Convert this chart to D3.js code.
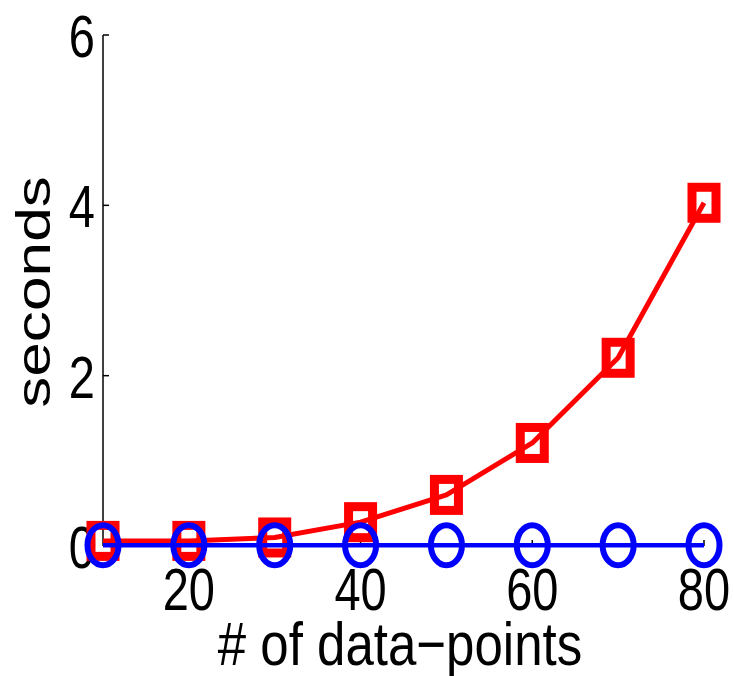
<!DOCTYPE html>
<html>
<head>
<meta charset="utf-8">
<script src="https://cdn.jsdelivr.net/npm/d3@7"></script>
<style>
  body { margin: 0; background: #fff; }
  text { font-family: "Liberation Sans", Arial, sans-serif; fill: #000; }
</style>
</head>
<body>
<svg id="chart" width="734" height="676"></svg>
<script>
// data
var dataPoints = [10, 20, 30, 40, 50, 60, 70, 80];
var redSeconds = [0.06, 0.06, 0.1, 0.28, 0.6, 1.21, 2.21, 4.03];
var blueSeconds = [0.01, 0.01, 0.01, 0.01, 0.01, 0.01, 0.01, 0.01];
var xTicks = [20, 40, 60, 80];
var yTicks = [0, 2, 4, 6];

var svg = d3.select("#chart");
var stretch = 1.27; // figure is stretched vertically

var x = d3.scaleLinear().domain([10, 80]).range([103, 704]);
var y = d3.scaleLinear().domain([0, 6]).range([546, 35]);

// axes (MATLAB style, box off, ticks inward)
var axes = svg.append("g").attr("class", "axes");
axes.append("line")
  .attr("x1", x(10)).attr("x2", x(10))
  .attr("y1", y(0)).attr("y2", y(6))
  .attr("stroke", "#000").attr("stroke-width", 1.5);
axes.append("line")
  .attr("x1", x(10)).attr("x2", x(80))
  .attr("y1", y(0)).attr("y2", y(0))
  .attr("stroke", "#000").attr("stroke-width", 1.5);

axes.selectAll("line.ytick")
  .data(yTicks)
  .enter().append("line")
  .attr("class", "ytick")
  .attr("x1", x(10)).attr("x2", x(10) + 6)
  .attr("y1", function(d) { return y(d); })
  .attr("y2", function(d) { return y(d); })
  .attr("stroke", "#000").attr("stroke-width", 1.5);

axes.selectAll("line.xtick")
  .data(xTicks)
  .enter().append("line")
  .attr("class", "xtick")
  .attr("x1", function(d) { return x(d); })
  .attr("x2", function(d) { return x(d); })
  .attr("y1", y(0)).attr("y2", y(0) - 6)
  .attr("stroke", "#000").attr("stroke-width", 1.5);

axes.selectAll("text.ylab")
  .data(yTicks)
  .enter().append("text")
  .attr("class", "ylab")
  .attr("text-anchor", "end")
  .attr("font-size", 47)
  .attr("transform", function(d) {
    return "translate(95," + (y(d) + 22) + ") scale(1," + stretch + ")";
  })
  .text(function(d) { return d; });

axes.selectAll("text.xlab")
  .data(xTicks)
  .enter().append("text")
  .attr("class", "xlab")
  .attr("text-anchor", "middle")
  .attr("font-size", 47)
  .attr("transform", function(d) {
    return "translate(" + x(d) + ",610) scale(1," + stretch + ")";
  })
  .text(function(d) { return d; });

svg.append("text")
  .attr("text-anchor", "middle")
  .attr("font-size", 51)
  .attr("transform", "translate(400,665) scale(1,1.2)")
  .text("# of data\u2212points");

svg.append("text")
  .attr("text-anchor", "middle")
  .attr("font-size", 49)
  .attr("transform", "translate(50,292) rotate(-90) scale(" + stretch + ",1)")
  .text("seconds");

var line = d3.line()
  .x(function(d, i) { return x(dataPoints[i]); })
  .y(function(d) { return y(d); });

// red series with square markers
svg.append("path")
  .datum(redSeconds)
  .attr("d", line)
  .attr("fill", "none")
  .attr("stroke", "#ff0000")
  .attr("stroke-width", 5)
  .attr("stroke-linejoin", "round");

svg.selectAll("rect.sq")
  .data(redSeconds)
  .enter().append("rect")
  .attr("class", "sq")
  .attr("x", function(d, i) { return x(dataPoints[i]) - 12; })
  .attr("y", function(d) { return y(d) - 15.5; })
  .attr("width", 24)
  .attr("height", 31)
  .attr("fill", "none")
  .attr("stroke", "#ff0000")
  .attr("stroke-width", 9);

// blue series with circle markers
svg.append("path")
  .datum(blueSeconds)
  .attr("d", line)
  .attr("fill", "none")
  .attr("stroke", "#0000ff")
  .attr("stroke-width", 4.5);

svg.selectAll("ellipse.circ")
  .data(blueSeconds)
  .enter().append("ellipse")
  .attr("class", "circ")
  .attr("cx", function(d, i) { return x(dataPoints[i]); })
  .attr("cy", function(d) { return y(d); })
  .attr("rx", 15.5)
  .attr("ry", 20)
  .attr("fill", "none")
  .attr("stroke", "#0000ff")
  .attr("stroke-width", 6);
</script>
</body>
</html>
